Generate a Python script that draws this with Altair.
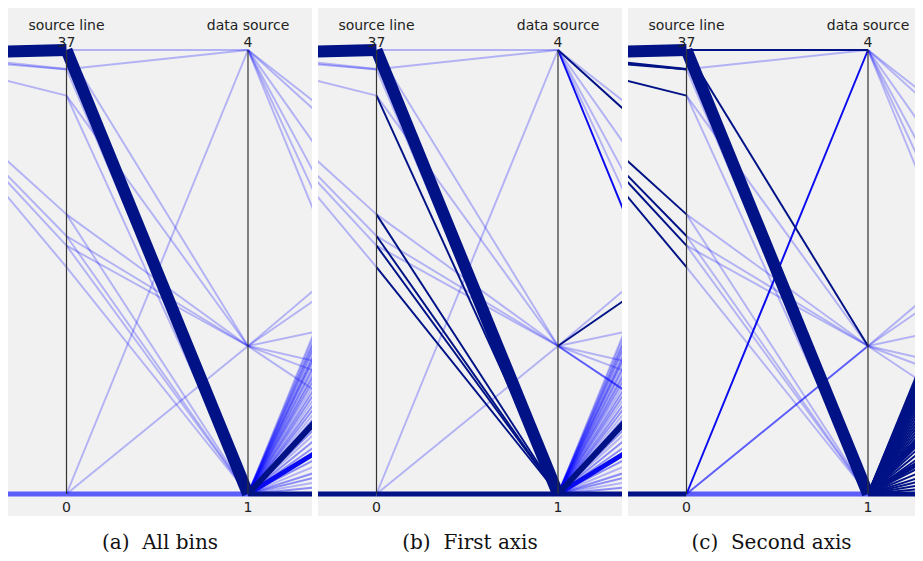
import altair as alt
import pandas as pd

# ---------------- data ----------------
AXIS_NAMES = ["source line", "data source"]
AXIS_TOP = ["37", "4"]
AXIS_BOTTOM = ["0", "1"]
SRC_MIN, SRC_MAX = 0, 37          # "source line" axis range
DS_MIN, DS_MAX = 1, 4             # "data source" axis range
CAPTIONS = {"a": "(a)\u00a0\u00a0All bins", "b": "(b)\u00a0\u00a0First axis", "c": "(c)\u00a0\u00a0Second axis"}

# gap 1: hidden previous axis (fraction 0-1) -> source line value
L_PREV = [0.99, 1.00, 0.99, 1.00, 1.00, 1.00, 1.00, 1.00, 0.00]
L_SRC = [37, 35.4, 35.4, 33.2, 23.3, 21.5, 20.7, 18.9, 0]
L_COUNT = [8, 1.6, 1.3, 1.3, 1.3, 1.3, 1.3, 1.3, 3.3]
L_CAT = {
    "a": ["sel", "low", "low", "low", "low", "low", "low", "low", "mid"],
    "b": ["sel", "low", "low", "low", "low", "low", "low", "low", "sel"],
    "c": ["sel", "sel", "sel", "sel", "sel", "sel", "sel", "sel", "sel"],
}

# gap 2: source line value -> data source value
M_SRC = [37, 37, 35.4, 37, 35.4, 33.2, 33.2, 23.3, 21.5, 20.7, 18.9, 23.3, 21.5, 20.7, 0, 0, 0]
M_DS = [1, 4, 4, 2, 1, 2, 1, 1, 1, 1, 1, 2, 2, 2, 4, 2, 1]
M_COUNT = [8, 1.3, 1.3, 1.3, 1.3, 1.3, 1.3, 1.3, 1.3, 1.3, 1.3, 1.3, 1.3, 1.3, 1.3, 1.3, 3.3]
M_CAT = {
    "a": ["sel", "low", "low", "low", "low", "low", "low", "low", "low", "low", "low", "low", "low", "low", "low", "low", "mid"],
    "b": ["sel", "low", "low", "low", "low", "low", "sel", "sel", "sel", "sel", "sel", "low", "low", "low", "low", "low", "sel"],
    "c": ["sel", "sel", "low", "sel", "low", "low", "low", "low", "low", "low", "low", "low", "low", "low", "hi", "mid", "mid"],
}

# gap 3: data source value -> hidden next axis (fraction 0-1)
R4_NEXT = [0.68, 0.63, 0.42, 0.24, 0.12, 0.00]
R4_COUNT = [1.3, 1.3, 1.3, 1.3, 1.3, 1.3]
R4_CAT = {
    "a": ["low", "low", "low", "low", "low", "low"],
    "b": ["low", "sel", "low", "low", "low", "hi"],
    "c": ["low", "low", "low", "low", "low", "low"],
}
R2_NEXT = [0.68, 0.615, 0.42, 0.24, 0.18, 0.06]
R2_COUNT = [1.3, 1.3, 1.3, 1.3, 1.3, 1.3]
R2_CAT = {
    "a": ["low", "low", "low", "low", "low", "low"],
    "b": ["low", "sel", "low", "low", "low", "mid"],
    "c": ["low", "low", "low", "low", "low", "low"],
}
R1_NEXT = [1.00, 0.98, 0.95, 0.93, 0.91, 0.88, 0.86, 0.84, 0.81, 0.79, 0.76, 0.74,
           0.71, 0.68, 0.65, 0.62, 0.59, 0.56, 0.53, 0.50, 0.47, 0.44, 0.40, 0.37,
           0.33, 0.29, 0.25, 0.21, 0.17, 0.13, 0.10, 0.07, 0.04, 0.00]
R1_COUNT = [1.3] * 21 + [4] + [1.3] * 4 + [3.3] + [1.3] * 6 + [3.3]
R1_CAT_AB = ["low", "low", "med", "low", "med", "low", "med", "med", "low", "med", "low", "med",
             "med", "low", "med", "med", "low", "med", "med", "low", "med", "sel", "med", "low",
             "med", "med", "hi", "med", "low", "med", "med", "low", "med", "sel"]
R1_CAT = {"a": R1_CAT_AB, "b": R1_CAT_AB, "c": ["sel"] * len(R1_NEXT)}

# ---------------- styling ----------------
CAT_DOMAIN = ["low", "med", "mid", "hi", "sel"]
CAT_RANGE = ["rgba(0,0,255,0.26)", "rgba(0,0,255,0.42)", "rgba(0,0,255,0.62)", "#0a0af0", "#001286"]
RANK = {c: i for i, c in enumerate(CAT_DOMAIN)}

PANEL_H = 508
XL = -58.5 / 181.5
YB, YT = -22 / 444, 1 + 42 / 444


def src_n(v):
    return (v - SRC_MIN) / (SRC_MAX - SRC_MIN)


def ds_n(v):
    return (v - DS_MIN) / (DS_MAX - DS_MIN)


def build(key):
    rows = []
    for p, s, c, k in zip(L_PREV, L_SRC, L_COUNT, L_CAT[key]):
        rows.append(dict(x0=-1, x1=0, y0=p, y1=src_n(s), count=c, cat=k))
    for s, d, c, k in zip(M_SRC, M_DS, M_COUNT, M_CAT[key]):
        rows.append(dict(x0=0, x1=1, y0=src_n(s), y1=ds_n(d), count=c, cat=k))
    for ds, nexts, counts, cats in [(4, R4_NEXT, R4_COUNT, R4_CAT[key]),
                                    (2, R2_NEXT, R2_COUNT, R2_CAT[key]),
                                    (1, R1_NEXT, R1_COUNT, R1_CAT[key])]:
        for n, c, k in zip(nexts, counts, cats):
            rows.append(dict(x0=1, x1=2, y0=ds_n(ds), y1=n, count=c, cat=k))
    df = pd.DataFrame(rows)
    df["rank"] = df["cat"].map(RANK)
    df = df.sort_values(["rank", "count"], kind="stable").reset_index(drop=True)
    return df


axis_df = pd.DataFrame({"x": [0, 1], "y0": [0, 0], "y1": [1, 1]})
text_rows = []
for i in range(2):
    text_rows.append(dict(x=i, y=1.045, text=AXIS_NAMES[i]))
    text_rows.append(dict(x=i, y=1.0068, text=AXIS_TOP[i]))
    text_rows.append(dict(x=i, y=-0.0405, text=AXIS_BOTTOM[i]))
text_df = pd.DataFrame(text_rows)


def panel(key, width):
    xr = 1 + (width - 58.5 - 181.5) / 181.5
    xs = alt.Scale(domain=[XL, xr], nice=False, zero=False)
    ys = alt.Scale(domain=[YB, YT], nice=False, zero=False)
    segs = alt.Chart(build(key)).mark_rule(clip=True).encode(
        x=alt.X("x0:Q", scale=xs, axis=None),
        x2="x1:Q",
        y=alt.Y("y0:Q", scale=ys, axis=None),
        y2="y1:Q",
        color=alt.Color("cat:N", scale=alt.Scale(domain=CAT_DOMAIN, range=CAT_RANGE), legend=None),
        strokeWidth=alt.StrokeWidth("count:Q", scale=alt.Scale(domain=[0, 8], range=[0, 12]), legend=None),
    )
    axes = alt.Chart(axis_df).mark_rule(color="#333333", strokeWidth=1.2).encode(
        x=alt.X("x:Q", scale=xs, axis=None),
        y=alt.Y("y0:Q", scale=ys, axis=None),
        y2="y1:Q",
    )
    texts = alt.Chart(text_df).mark_text(
        font="DejaVu Sans", fontSize=14, color="#222222", align="center", baseline="alphabetic"
    ).encode(
        x=alt.X("x:Q", scale=xs, axis=None),
        y=alt.Y("y:Q", scale=ys, axis=None),
        text="text:N",
    )
    return alt.layer(segs, axes, texts).properties(
        width=width,
        height=PANEL_H,
        title=alt.TitleParams(
            CAPTIONS[key], orient="bottom", anchor="middle", font="DejaVu Serif",
            fontSize=20, fontWeight="normal", color="#111111", offset=17,
        ),
    )


chart = alt.hconcat(panel("a", 304), panel("b", 304), panel("c", 287), spacing=6).properties(
    padding=0
).configure_view(fill="#f1f1f1", stroke=None)

chart.save("out.html", embed_options={"renderer": "svg", "actions": False})
